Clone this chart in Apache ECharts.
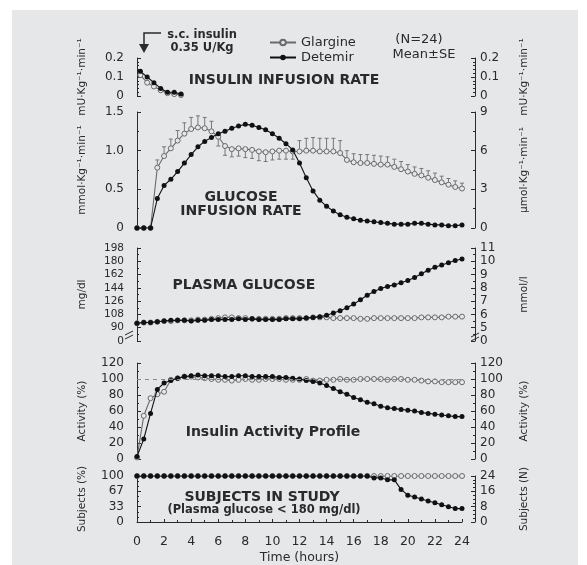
<!DOCTYPE html>
<html><head><meta charset="utf-8">
<script src="https://cdn.jsdelivr.net/npm/echarts@6/dist/echarts.min.js"></script>
<style>html,body{margin:0;padding:0;background:#fff}#c{width:587px;height:565px}</style>
</head><body><div id="c"></div>
<script>
// ---------------- DATA ----------------
const hours = [0,0.5,1,1.5,2,2.5,3,3.5,4,4.5,5,5.5,6,6.5,7,7.5,8,8.5,9,9.5,10,10.5,11,11.5,12,12.5,13,13.5,14,14.5,15,15.5,16,16.5,17,17.5,18,18.5,19,19.5,20,20.5,21,21.5,22,22.5,23,23.5,24];
const xTickLabels = [0,2,4,6,8,10,12,14,16,18,20,22,24];

const infusionHours = [0.25,0.75,1.25,1.75,2.25,2.75,3.25];
const infusionGlargine = [0.11,0.07,0.05,0.03,0.015,0.01,0.005];
const infusionDetemir  = [0.13,0.10,0.07,0.04,0.02,0.02,0.01];

const girGlargine = [0,0,0,0.78,0.93,1.03,1.13,1.22,1.28,1.30,
  1.29,1.25,1.18,1.06,1.02,1.03,1.02,1.01,0.99,0.98,
  0.99,1.00,1.00,0.99,0.99,1.00,1.00,0.99,0.99,0.99,
  0.97,0.88,0.85,0.84,0.84,0.83,0.82,0.82,0.79,0.76,
  0.73,0.70,0.68,0.65,0.62,0.59,0.56,0.53,0.51];
const girGlargineSE = [0,0,0,0.10,0.12,0.12,0.13,0.14,0.15,0.15,
  0.14,0.13,0.12,0.12,0.10,0.10,0.11,0.11,0.12,0.12,
  0.11,0.11,0.11,0.10,0.14,0.16,0.17,0.17,0.17,0.17,
  0.16,0.12,0.11,0.11,0.11,0.11,0.11,0.10,0.10,0.10,
  0.09,0.09,0.09,0.09,0.09,0.08,0.08,0.08,0.07];
const girDetemir = [0,0,0,0.38,0.55,0.63,0.73,0.84,0.95,1.05,
  1.12,1.17,1.22,1.25,1.29,1.32,1.34,1.33,1.30,1.27,
  1.22,1.16,1.09,1.01,0.84,0.65,0.48,0.36,0.28,0.22,
  0.17,0.14,0.12,0.10,0.09,0.08,0.07,0.06,0.05,0.05,
  0.05,0.06,0.06,0.05,0.04,0.04,0.03,0.03,0.04];

const glucoseGlargine = [96,97,97,98,99,99,100,100,100,101,
  101,102,103,104,104,103,103,102,102,102,
  102,102,103,103,103,103,104,104,104,103,
  103,103,103,102,102,103,103,103,103,103,
  103,103,104,104,104,104,105,105,105];
const glucoseDetemir = [96,97,97,98,99,100,100,100,99,100,
  100,101,101,101,101,102,101,102,101,101,
  101,101,102,102,102,103,104,105,107,110,
  113,117,122,128,134,139,143,146,148,151,
  154,158,163,168,172,175,178,181,183];

const activityGlargine = [2,54,76,81,84,99,101,103,103,102,
  101,100,99,99,98,99,100,99,99,100,
  100,100,99,99,99,100,98,98,99,99,
  100,99,99,100,100,100,100,99,100,100,
  99,99,98,97,97,96,96,96,96];
const activityDetemir = [3,25,57,87,95,98,101,103,104,105,
  104,104,104,103,103,104,104,103,103,103,
  103,102,102,101,100,98,97,95,92,88,
  84,81,77,74,71,69,66,64,63,62,
  61,60,58,57,56,55,54,53,53];

const subjectsGlargine = [24,24,24,24,24,24,24,24,24,24,
  24,24,24,24,24,24,24,24,24,24,
  24,24,24,24,24,24,24,24,24,24,
  24,24,24,24,24,24,24,24,24,24,
  24,24,24,24,24,24,24,24,24];
const subjectsDetemir = [24,24,24,24,24,24,24,24,24,24,
  24,24,24,24,24,24,24,24,24,24,
  24,24,24,24,24,24,24,24,24,24,
  24,24,24,24,24,23,23,22,22,17,
  14,13,12,11,10,9,8,7,7];

// ---------------- STYLE ----------------
const FONT = '"DejaVu Sans", sans-serif';
const INK = '#2a2a2a';
const BG = '#e6e7e9';
const GLAR = '#6a6a6a';
const DET = '#111111';

const pairs = (xs, ys) => xs.map((x, i) => [x, ys[i]]);

const gridBoxes = [
  {top: 58, height: 38},
  {top: 112, height: 116},
  {top: 248, height: 93},
  {top: 363, height: 96},
  {top: 476, height: 48}
];
const grid = gridBoxes.map(g => ({left: 137, right: 125, top: g.top, height: g.height}));

const xAxis = grid.map((g, i) => ({
  type: 'value', gridIndex: i, min: 0, max: 24, interval: 2,
  show: i === 4,
  offset: 4,
  axisLine: {show: true, lineStyle: {color: INK, width: 1}},
  axisTick: {show: true, inside: true, length: 3, lineStyle: {color: INK}},
  minorTick: {show: true, splitNumber: 2, length: 2, lineStyle: {color: INK}},
  splitLine: {show: false},
  axisLabel: {fontFamily: FONT, fontSize: 12.5, color: INK, margin: 9},
  name: i === 4 ? 'Time (hours)' : '',
  nameLocation: 'middle', nameGap: 25,
  nameTextStyle: {fontFamily: FONT, fontSize: 12.5, color: INK}
}));

function yAx(gi, side, min, max, interval, name, fmt, fs, minorSplit) {
  return {
    type: 'value', gridIndex: gi, position: side, min, max, interval,
    offset: side === 'left' ? 8 : 13,
    axisLine: {show: true, lineStyle: {color: INK, width: 1}},
    axisTick: {show: true, inside: true, length: 4, lineStyle: {color: INK}},
    minorTick: {show: minorSplit > 0, splitNumber: minorSplit || 1, length: 2, lineStyle: {color: INK}},
    splitLine: {show: false},
    axisLabel: {fontFamily: FONT, fontSize: fs, color: INK, margin: 5, formatter: fmt},
    name, nameLocation: 'middle', nameRotate: 90, nameGap: side === 'left' ? 41 : 44,
    nameTextStyle: {fontFamily: FONT, fontSize: 10.5, color: INK}
  };
}
const f1 = v => v === 0 ? '0' : v.toFixed(1);
const yAxis = [
  yAx(0, 'left', 0, 0.2, 0.1, 'mU·Kg⁻¹·min⁻¹', f1, 12, 5),
  yAx(0, 'right', 0, 0.2, 0.1, 'mU·Kg⁻¹·min⁻¹', f1, 12, 5),
  yAx(1, 'left', 0, 1.5, 0.5, 'mmol·Kg⁻¹·min⁻¹', f1, 12, 2),
  yAx(1, 'right', 0, 9, 3, 'µmol·Kg⁻¹·min⁻¹', v => String(v), 12, 2),
  yAx(2, 'left', 72, 198, 18, 'mg/dl', v => v === 72 ? '0' : String(v), 10.5, 2),
  yAx(2, 'right', 4, 11, 1, 'mmol/l', v => v === 4 ? '0' : String(v), 12, 2),
  yAx(3, 'left', 0, 120, 20, 'Activity (%)', v => String(v), 12, 2),
  yAx(3, 'right', 0, 120, 20, 'Activity (%)', v => String(v), 12, 2),
  yAx(4, 'left', 0, 100, 100 / 3, 'Subjects (%)', v => String(Math.round(v)), 12, 3),
  yAx(4, 'right', 0, 24, 8, 'Subjects (N)', v => String(v), 12, 4)
];

function lineSeries(name, data, xi, yi, isDet) {
  return {
    type: 'line', name, data, xAxisIndex: xi, yAxisIndex: yi,
    symbol: 'circle', symbolSize: isDet ? 5 : 5,
    showSymbol: true, animation: false, z: isDet ? 4 : 3,
    lineStyle: {color: isDet ? DET : GLAR, width: 1.1},
    itemStyle: isDet ? {color: DET} : {color: BG, borderColor: GLAR, borderWidth: 1}
  };
}

const errData = hours.map((h, i) => [h, girGlargine[i], girGlargineSE[i], girGlargine[i] >= girDetemir[i] ? 1 : -1]);
const errSeries = {
  type: 'custom', name: 'Glargine', xAxisIndex: 1, yAxisIndex: 2, data: errData, z: 2, animation: false,
  encode: {x: 0, y: 1},
  renderItem: (params, api) => {
    const x = api.value(0), v = api.value(1), se = api.value(2), dir = api.value(3);
    if (se <= 0) return null;
    const p0 = api.coord([x, v]);
    const p1 = api.coord([x, v + dir * se]);
    return {type: 'group', children: [
      {type: 'line', shape: {x1: p0[0], y1: p0[1], x2: p1[0], y2: p1[1]}, style: {stroke: '#777', lineWidth: 1}},
      {type: 'line', shape: {x1: p1[0] - 2, y1: p1[1], x2: p1[0] + 2, y2: p1[1]}, style: {stroke: '#777', lineWidth: 1}}
    ]};
  }
};

const activityGlarSeries = lineSeries('Glargine', pairs(hours, activityGlargine), 3, 6, false);
activityGlarSeries.markLine = {
  silent: true, symbol: 'none', animation: false,
  lineStyle: {color: '#888', type: [4, 4], width: 1},
  label: {show: false},
  data: [{yAxis: 100}]
};

const series = [
  lineSeries('Glargine', pairs(infusionHours, infusionGlargine), 0, 0, false),
  lineSeries('Detemir', pairs(infusionHours, infusionDetemir), 0, 0, true),
  errSeries,
  lineSeries('Glargine', pairs(hours, girGlargine), 1, 2, false),
  lineSeries('Detemir', pairs(hours, girDetemir), 1, 2, true),
  lineSeries('Glargine', pairs(hours, glucoseGlargine), 2, 4, false),
  lineSeries('Detemir', pairs(hours, glucoseDetemir), 2, 4, true),
  activityGlarSeries,
  lineSeries('Detemir', pairs(hours, activityDetemir), 3, 6, true),
  lineSeries('Glargine', pairs(hours, subjectsGlargine), 4, 9, false),
  lineSeries('Detemir', pairs(hours, subjectsDetemir), 4, 9, true)
];

function txt(text, x, y, size, bold, align) {
  return {type: 'text', x, y, silent: true, z: 10,
    style: {text, fill: INK, font: (bold ? 'bold ' : '') + size + 'px ' + FONT,
      textAlign: align || 'center', textVerticalAlign: 'middle'}};
}
function brk(x, y) {
  return {type: 'group', z: 10, silent: true, children: [
    {type: 'rect', shape: {x: x - 4, y: y - 2, width: 8, height: 4}, style: {fill: BG}},
    {type: 'line', shape: {x1: x - 4, y1: y, x2: x + 4, y2: y - 4}, style: {stroke: INK, lineWidth: 1}},
    {type: 'line', shape: {x1: x - 4, y1: y + 4, x2: x + 4, y2: y}, style: {stroke: INK, lineWidth: 1}}
  ]};
}

const graphic = [
  {type: 'rect', z: -10, silent: true, shape: {x: 12, y: 10, width: 566, height: 555}, style: {fill: BG}},
  {type: 'polyline', z: 10, silent: true, shape: {points: [[161, 33], [144, 33], [144, 47]]}, style: {stroke: INK, lineWidth: 1.5, fill: null}},
  {type: 'polygon', z: 10, silent: true, shape: {points: [[139, 44], [149, 44], [144, 53]]}, style: {fill: INK}},
  txt('s.c. insulin', 202, 35, 11.5, true),
  txt('0.35 U/Kg', 202, 48, 11.5, true),
  txt('(N=24)', 419, 40, 13, false),
  txt('Mean±SE', 424, 55, 13, false),
  txt('INSULIN INFUSION RATE', 284, 80, 14, true),
  txt('GLUCOSE', 241, 197, 14, true),
  txt('INFUSION RATE', 241, 211, 14, true),
  txt('PLASMA GLUCOSE', 244, 285, 14, true),
  txt('Insulin Activity Profile', 273, 432, 14, true),
  txt('SUBJECTS IN STUDY', 262, 497, 14, true),
  txt('(Plasma glucose < 180 mg/dl)', 264, 510, 11.5, true),
  brk(129, 335),
  brk(475, 337)
];

const chart = echarts.init(document.getElementById('c'), null, {renderer: 'canvas'});
chart.setOption({
  backgroundColor: '#fff',
  animation: false,
  grid, xAxis, yAxis, series, graphic,
  legend: {
    data: ['Glargine', 'Detemir'], orient: 'vertical', left: 264, top: 31,
    itemGap: 2, itemWidth: 26, itemHeight: 7,
    textStyle: {fontFamily: FONT, fontSize: 13, color: INK},
    selectedMode: false
  }
});
</script></body></html>
